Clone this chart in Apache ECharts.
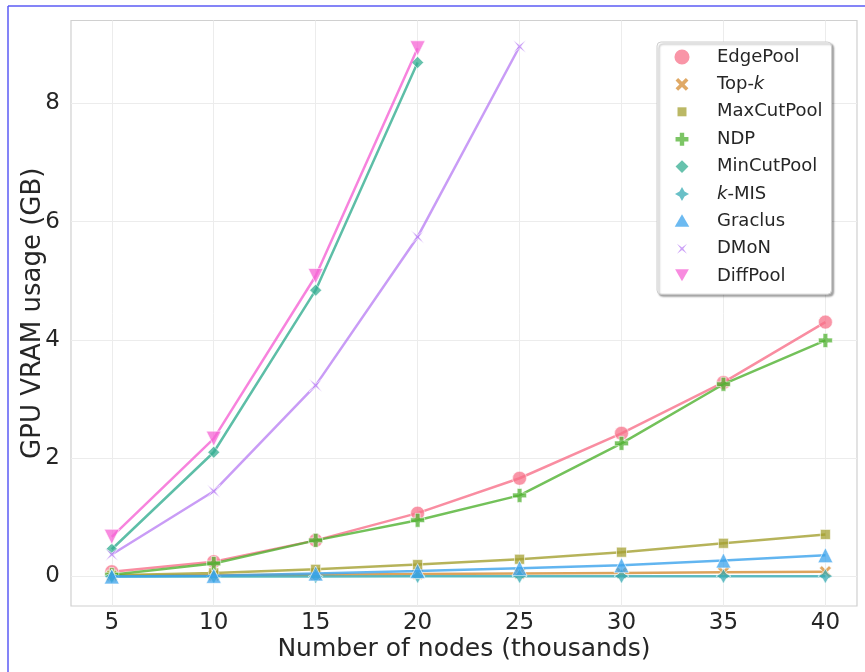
<!DOCTYPE html>
<html lang="en">

<head>
    <meta charset="UTF-8">
    <title>GPU VRAM usage</title>
    <script src="https://cdn.jsdelivr.net/npm/echarts@6/dist/echarts.min.js"></script>
    <style>
        html, body { margin: 0; padding: 0; background: #fff; }
        #app { width: 865px; height: 672px; }
    </style>
</head>

<body>
    <div id="app"></div>
    <script>
        // number of nodes (thousands)
        let nodes = [5, 10, 15, 20, 25, 30, 35, 40]
        let xTicks = [5, 10, 15, 20, 25, 30, 35, 40]
        let yTicks = [0, 2, 4, 6, 8]

        // GPU memory in GB
        let edgePool = [0.08, 0.25, 0.61, 1.07, 1.66, 2.42, 3.28, 4.30]
        let topK = [0.01, 0.02, 0.03, 0.04, 0.05, 0.06, 0.07, 0.08]
        let maxCutPool = [0.02, 0.06, 0.12, 0.20, 0.29, 0.41, 0.56, 0.71]
        let ndp = [0.03, 0.22, 0.61, 0.95, 1.37, 2.25, 3.25, 3.99]
        let minCutPool = [0.46, 2.10, 4.84, 8.69]
        let kMis = [0.0, 0.0, 0.0, 0.005, 0.005, 0.005, 0.005, 0.005]
        let graclus = [0.0, 0.01, 0.05, 0.09, 0.14, 0.19, 0.27, 0.36]
        let dmon = [0.37, 1.44, 3.23, 5.74, 8.96]
        let diffPool = [0.67, 2.33, 5.08, 8.93]

        let names = ['EdgePool', 'Top-k', 'MaxCutPool', 'NDP', 'MinCutPool', 'k-MIS', 'Graclus', 'DMoN', 'DiffPool']
        let values = [edgePool, topK, maxCutPool, ndp, minCutPool, kMis, graclus, dmon, diffPool]
        let colors = ['#f77189', '#d58c32', '#a4a031', '#50b131', '#34ae91', '#37abb4', '#3ba3ec', '#bb83f4', '#f564d4']

        // marker shapes (matplotlib o X s P D * ^ x v look-alikes)
        let circlePath = 'M5,0 A5,5 0 1 1 4.99,0 Z'
        let xPath = 'M2,0 L5,3 L8,0 L10,2 L7,5 L10,8 L8,10 L5,7 L2,10 L0,8 L3,5 L0,2 Z'
        let squarePath = 'M0,0 H10 V10 H0 Z'
        let plusPath = 'M3.3,0 H6.7 V3.3 H10 V6.7 H6.7 V10 H3.3 V6.7 H0 V3.3 H3.3 Z'
        let diamondPath = 'M5,0 L10,5 L5,10 L0,5 Z'
        let starPath = 'M5,0 L6.8,3.2 L10,5 L6.8,6.8 L5,10 L3.2,6.8 L0,5 L3.2,3.2 Z'
        let trianglePath = 'M5,0 L10,8.7 L0,8.7 Z'
        let dmonPath = 'M0,0 L5,3.8 L10,0 L6.2,5 L10,10 L5,6.2 L0,10 L3.8,5 Z'
        let downTriPath = 'M0,0 L10,0 L5,8.7 Z'
        let paths = [circlePath, xPath, squarePath, plusPath, diamondPath, starPath, trianglePath, dmonPath, downTriPath]
        let sizes = [14, 12, 10, 14, 12, 15, 15, 13, 15]
        // empty margin (in path units) round each legend icon, so the icons keep their own sizes
        let legendPad = [0.3, 1.2, 3.9, 1.2, 1.2, 0.7, 0.5, 3, 0.8]

        let font = 'DejaVu Sans'
        let textColor = '#262626'

        let mCharts = echarts.init(document.getElementById('app'))

        let series = names.map((name, i) => ({
            name: name,
            type: 'line',
            data: values[i].map((v, j) => [nodes[j], v]),
            symbol: 'path://' + paths[i],
            symbolSize: sizes[i],
            showAllSymbol: true,
            lineStyle: { color: colors[i], width: 2.5, opacity: 0.8 },
            itemStyle: { color: colors[i], opacity: 0.75, borderColor: '#fff', borderWidth: 0.8 },
            emphasis: { disabled: true },
            z: 2 + i
        }))

        let legendIcons = paths.map((p, i) => {
            let a = -legendPad[i], b = 10 + legendPad[i]
            return 'path://M' + a + ',' + a + ' M' + b + ',' + b + ' ' + p
        })

        let option = {
            animation: false,
            textStyle: { fontFamily: font },
            grid: {
                left: 71, right: 8, top: 20.5, bottom: 66,
                show: true, borderColor: '#d0d0d0', borderWidth: 1.2
            },
            xAxis: {
                type: 'value',
                min: 3,
                max: 41.55,
                name: 'Number of nodes (thousands)',
                nameLocation: 'middle',
                nameGap: 31,
                nameMoveOverlap: false,
                nameTextStyle: { fontSize: 25, color: textColor, fontFamily: font },
                axisLine: { show: false },
                axisTick: { show: false, customValues: xTicks },
                axisLabel: { customValues: xTicks, fontSize: 23, color: textColor, margin: 6, fontFamily: font },
                splitLine: { show: true, lineStyle: { color: '#ececec', width: 1 } }
            },
            yAxis: {
                type: 'value',
                min: -0.5,
                max: 9.4,
                name: 'GPU VRAM usage (GB)',
                nameLocation: 'middle',
                nameGap: 25,
                nameMoveOverlap: false,
                nameTextStyle: { fontSize: 26, color: textColor, fontFamily: font },
                axisLine: { show: false },
                axisTick: { show: false, customValues: yTicks },
                axisLabel: { customValues: yTicks, fontSize: 23, color: textColor, margin: 11, fontFamily: font },
                splitLine: { show: true, lineStyle: { color: '#ececec', width: 1 } }
            },
            legend: {
                orient: 'vertical',
                left: 657,
                top: 42,
                padding: [5, 9, 8, 17],
                itemWidth: 16,
                itemHeight: 16,
                itemGap: 7.4,
                backgroundColor: '#fff',
                borderColor: '#cfcfcf',
                borderWidth: 1,
                borderRadius: 4,
                shadowColor: 'rgba(0,0,0,0.35)',
                shadowBlur: 2,
                shadowOffsetX: 2,
                shadowOffsetY: 2,
                data: names.map((n, i) => ({ name: n, icon: legendIcons[i], itemStyle: { opacity: 0.75, borderWidth: 0 } })),
                formatter: function (name) {
                    if (name === 'Top-k') return 'Top-{i|k}'
                    if (name === 'k-MIS') return '{i|k}-MIS'
                    return name
                },
                textStyle: {
                    fontSize: 18, lineHeight: 20, color: textColor, fontFamily: font,
                    padding: [0, 0, 0, 22],
                    rich: { i: { fontStyle: 'italic', fontSize: 18, lineHeight: 20, color: textColor, fontFamily: font } }
                }
            },
            graphic: [
                { type: 'line', shape: { x1: 8, y1: 6, x2: 865, y2: 6 }, style: { stroke: '#5b5bf5', lineWidth: 1.5 }, silent: true },
                { type: 'line', shape: { x1: 8, y1: 6, x2: 8, y2: 672 }, style: { stroke: '#5b5bf5', lineWidth: 1.5 }, silent: true }
            ],
            series: series
        }
        mCharts.setOption(option)
    </script>
</body>

</html>
